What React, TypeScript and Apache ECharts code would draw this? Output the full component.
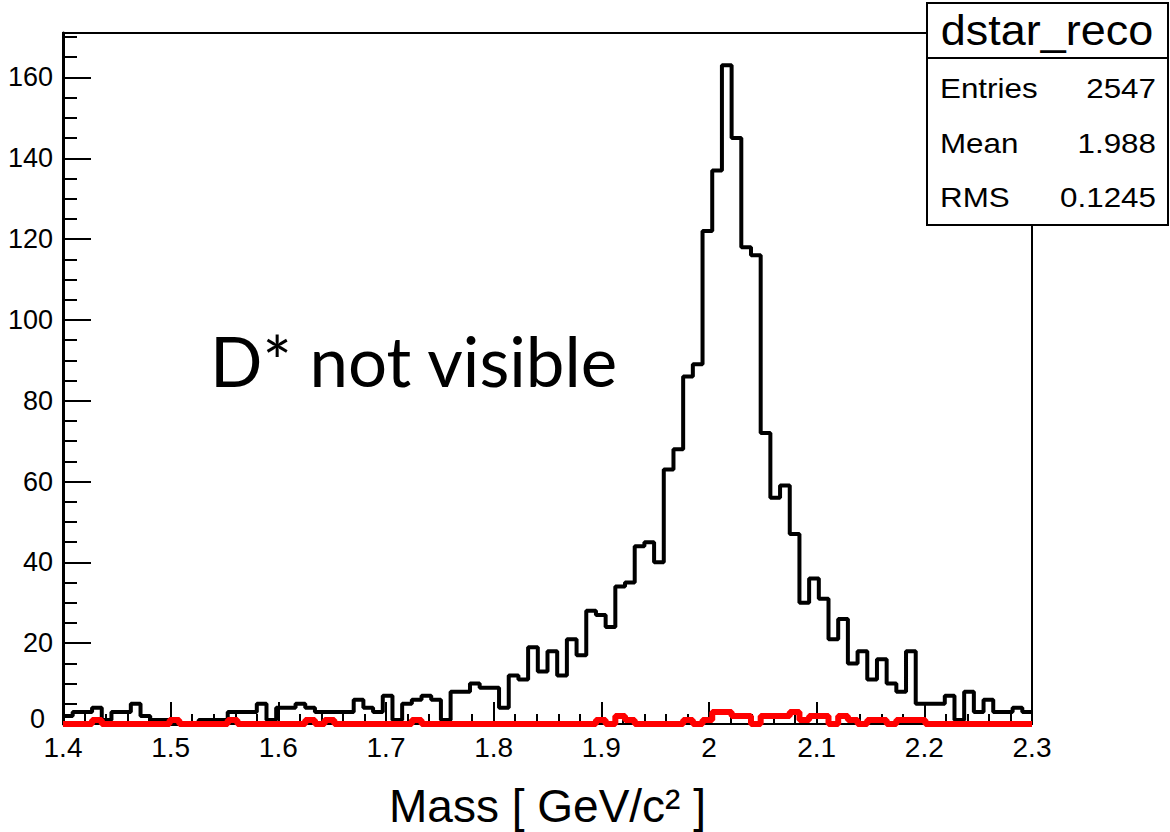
import React, { useEffect, useRef } from 'react';
import * as echarts from 'echarts';

// Histogram definition (ROOT TH1: 100 bins from 1.4 to 2.3)
const BIN_LOW = 1.4;
const BIN_HIGH = 2.3;

// dstar_reco (black) bin contents
const blackCounts = [
  2, 3, 3, 4, 1, 3, 3, 5, 2, 1,
  1, 0, 0, 0, 1, 1, 1, 3, 3, 3,
  5, 1, 4, 4, 5, 4, 3, 3, 3, 3,
  6, 4, 3, 7, 1, 5, 6, 7, 6, 1,
  8, 8, 10, 9, 9, 4, 12, 11, 19, 13,
  18, 12, 21, 17, 28, 27, 24, 34, 35, 44,
  45, 40, 63, 68, 86, 89, 122, 137, 163, 145,
  118, 116, 72, 56, 59, 47, 30, 36, 31, 21,
  26, 15, 18, 11, 16, 10, 8, 18, 5, 5,
  5, 7, 1, 8, 3, 6, 3, 3, 4, 3,
];

// second (red) histogram bin contents
const redCounts = [
  0, 0, 0, 1, 0, 0, 0, 0, 0, 0,
  0, 1, 0, 0, 0, 0, 0, 1, 0, 0,
  0, 0, 0, 0, 0, 1, 0, 1, 0, 0,
  0, 0, 0, 0, 0, 0, 1, 0, 0, 0,
  0, 0, 0, 0, 0, 0, 0, 0, 0, 0,
  0, 0, 0, 0, 0, 1, 0, 2, 1, 0,
  0, 0, 0, 0, 1, 0, 1, 3, 3, 2,
  2, 0, 2, 2, 2, 3, 1, 2, 2, 0,
  2, 1, 0, 1, 1, 0, 1, 1, 1, 0,
  0, 0, 0, 0, 0, 0, 0, 0, 0, 0,
];

const yMax = 171;
const yMajorStep = 20;
const yMinorStep = 5;
const xMajorStep = 0.1;

const statTitle = 'dstar_reco';
const statLabels = ['Entries', 'Mean', 'RMS'];
const statValues = ['2547', '1.988', '0.1245'];
const annotationText = 'D* not visible';
const xAxisTitle = 'Mass [ GeV/c\u00B2 ]';

const FONT = '"Liberation Sans", Arial, sans-serif';

function toSteps(counts: number[]) {
  const w = (BIN_HIGH - BIN_LOW) / counts.length;
  const pts: number[][] = counts.map((c, i) => [BIN_LOW + i * w, c]);
  pts.push([BIN_HIGH, counts[counts.length - 1]]);
  return pts;
}

export default function App() {
  const ref = useRef<HTMLDivElement>(null);

  useEffect(() => {
    if (!ref.current) return;
    const chart = echarts.init(ref.current, undefined, { renderer: 'svg' });

    const rowY = [88, 143, 197];
    const statChildren: any[] = [
      {
        type: 'rect',
        shape: { x: 927, y: 3, width: 241, height: 222 },
        style: { fill: '#fff', stroke: '#000', lineWidth: 2 },
        z: 100,
      },
      {
        type: 'line',
        shape: { x1: 927, y1: 58, x2: 1168, y2: 58 },
        style: { stroke: '#000', lineWidth: 2 },
        z: 101,
      },
      {
        type: 'text',
        x: 1047,
        y: 31,
        scaleX: 1.07,
        z: 102,
        style: {
          text: statTitle,
          fill: '#000',
          fontSize: 42,
          fontFamily: FONT,
          textAlign: 'center',
          textVerticalAlign: 'middle',
          align: 'center',
          verticalAlign: 'middle',
        },
      },
    ];
    statLabels.forEach((lab, i) => {
      statChildren.push({
        type: 'text',
        x: 940,
        y: rowY[i],
        scaleX: 1.12,
        z: 102,
        style: {
          text: lab,
          fill: '#000',
          fontSize: 28,
          fontFamily: FONT,
          textAlign: 'left',
          textVerticalAlign: 'middle',
          align: 'left',
          verticalAlign: 'middle',
        },
      });
      statChildren.push({
        type: 'text',
        x: 1156,
        y: rowY[i],
        scaleX: 1.12,
        z: 102,
        style: {
          text: statValues[i],
          fill: '#000',
          fontSize: 28,
          fontFamily: FONT,
          textAlign: 'right',
          textVerticalAlign: 'middle',
          align: 'right',
          verticalAlign: 'middle',
        },
      });
    });

    const tickLine = { color: '#000', width: 2 };

    chart.setOption({
      animation: false,
      backgroundColor: '#ffffff',
      grid: {
        left: 63,
        right: 138,
        top: 33,
        bottom: 108,
        show: true,
        borderColor: '#000',
        borderWidth: 2,
        backgroundColor: 'transparent',
        containLabel: false,
        outerBoundsMode: 'none',
      },
      xAxis: {
        type: 'value',
        min: BIN_LOW,
        max: BIN_HIGH,
        interval: xMajorStep,
        axisLine: { show: true, onZero: false, lineStyle: { color: '#000', width: 2 } },
        axisTick: { show: true, inside: true, length: 22, lineStyle: tickLine },
        minorTick: { show: true, splitNumber: 5, length: 10, lineStyle: tickLine },
        axisLabel: { color: '#000', fontSize: 28, fontFamily: FONT, margin: 12, lineHeight: 22 },
        splitLine: { show: false },
        minorSplitLine: { show: false },
        name: xAxisTitle,
        nameLocation: 'middle',
        nameGap: 59,
        nameTextStyle: { color: '#000', fontSize: 46, fontFamily: FONT },
      },
      yAxis: [
        {
          type: 'value',
          min: 0,
          max: yMax,
          interval: yMajorStep,
          position: 'left',
          axisLine: { show: true, lineStyle: { color: '#000', width: 3 } },
          axisTick: { show: true, inside: true, length: 28, lineStyle: tickLine },
          axisLabel: {
            color: '#000',
            fontSize: 27,
            fontFamily: FONT,
            margin: 10,
            lineHeight: 20,
            formatter: (v: number) => {
              if (Math.abs(v % yMajorStep) > 1e-6) return '';
              return v === 0 ? '{z|0}' : String(v);
            },
            rich: {
              z: {
                color: '#000',
                fontSize: 27,
                fontFamily: FONT,
                lineHeight: 20,
                padding: [0, 8, 10, 0],
              },
            },
          },
          splitLine: { show: false },
        },
        {
          type: 'value',
          min: 0,
          max: yMax,
          interval: yMinorStep,
          position: 'left',
          offset: 0,
          axisLine: { show: false },
          axisTick: { show: true, inside: true, length: 14, lineStyle: tickLine },
          axisLabel: { show: false },
          splitLine: { show: false },
        },
      ],
      series: [
        {
          type: 'line',
          name: 'dstar_reco',
          step: 'end',
          symbol: 'none',
          clip: false,
          data: toSteps(blackCounts),
          lineStyle: { color: '#000', width: 4 },
          z: 3,
        },
        {
          type: 'line',
          name: 'dstar_red',
          step: 'end',
          symbol: 'none',
          clip: false,
          data: toSteps(redCounts),
          lineStyle: { color: '#ff0000', width: 6 },
          z: 4,
        },
      ],
      graphic: [
        {
          type: 'text',
          x: 210,
          y: 360,
          z: 50,
          style: {
            text: annotationText,
            fill: '#000',
            fontSize: 69,
            fontFamily: 'Lato, "Open Sans", sans-serif',
            textAlign: 'left',
            textVerticalAlign: 'middle',
            align: 'left',
            verticalAlign: 'middle',
          },
        },
        { type: 'group', children: statChildren },
      ],
    });

    return () => chart.dispose();
  }, []);

  return (
    <div
      ref={ref}
      style={{ position: 'absolute', left: 0, top: 0, width: 1170, height: 832, background: '#fff' }}
    />
  );
}
